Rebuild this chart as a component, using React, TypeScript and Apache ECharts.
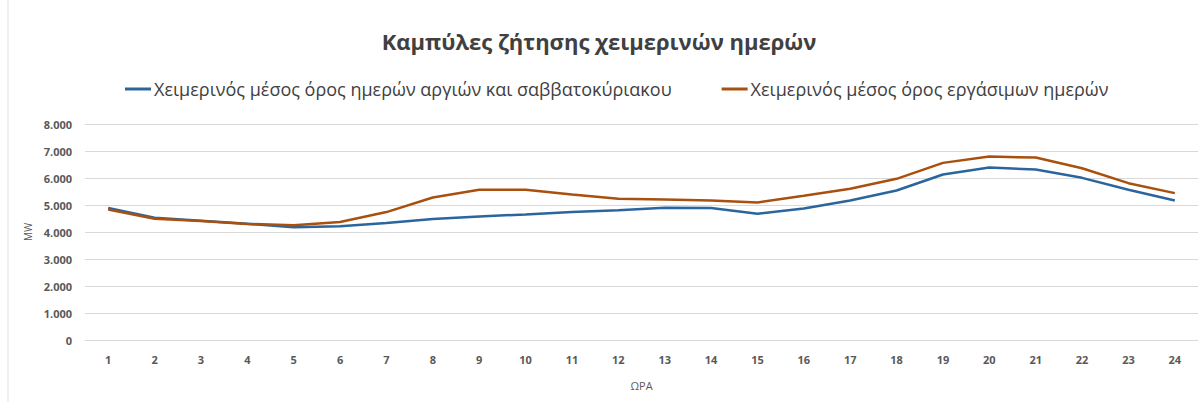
import React, { useEffect, useRef } from "react";
import * as echarts from "echarts";

const hours = ["1","2","3","4","5","6","7","8","9","10","11","12","13","14","15","16","17","18","19","20","21","22","23","24"];
const holidayWeekend = [4886,4529,4418,4308,4172,4209,4332,4480,4578,4652,4738,4810,4898,4886,4677,4874,5169,5538,6129,6388,6314,6006,5563,5169];
const workdays = [4837,4492,4406,4300,4246,4369,4738,5280,5563,5563,5391,5231,5206,5169,5095,5342,5600,5969,6560,6794,6757,6363,5809,5440];

const seriesNames = [
  "Χειμερινός μέσος όρος ημερών αργιών και σαββατοκύριακου",
  "Χειμερινός μέσος όρος εργάσιμων ημερών",
];
const colors = ["#2b659e", "#a9500f"];
const FONT = "'Open Sans', sans-serif";

export default function App() {
  const ref = useRef<HTMLDivElement>(null);
  useEffect(() => {
    const chart = echarts.init(ref.current!, null, { renderer: "svg" });
    chart.setOption({
      animation: false,
      backgroundColor: "#ffffff",
      title: {
        text: "Καμπύλες ζήτησης χειμερινών ημερών",
        left: "center",
        top: 25,
        textStyle: { fontFamily: FONT, fontSize: 22, fontWeight: "bold", color: "#404040" },
      },
      legend: {
        top: 75,
        left: 120,
        itemGap: 50,
        itemWidth: 26,
        itemHeight: 3,
        icon: "rect",
        textStyle: { fontFamily: FONT, fontSize: 18, color: "#404040", padding: [0, 0, 0, -2] },
        data: seriesNames,
      },
      grid: { left: 85, right: 0, top: 124, bottom: 62 },
      xAxis: {
        type: "category",
        data: hours,
        name: "ΩΡΑ",
        nameLocation: "middle",
        nameGap: 40,
        nameTextStyle: { fontFamily: FONT, fontSize: 11, color: "#595959" },
        axisLine: { show: false },
        axisTick: { show: false },
        axisLabel: { fontFamily: FONT, fontSize: 11, fontWeight: "bold", color: "#595959", margin: 14 },
      },
      yAxis: {
        type: "value",
        min: 0,
        max: 8000,
        interval: 1000,
        name: "MW",
        nameLocation: "middle",
        nameGap: 44,
        nameTextStyle: { fontFamily: FONT, fontSize: 10, color: "#595959" },
        axisLabel: {
          fontFamily: FONT,
          fontSize: 11,
          fontWeight: "bold",
          color: "#595959",
          margin: 13,
          formatter: (v: number) => v.toString().replace(/\B(?=(\d{3})+(?!\d))/g, "."),
        },
        splitLine: { lineStyle: { color: "#d9d9d9", width: 1 } },
      },
      series: [
        {
          name: seriesNames[0],
          type: "line",
          data: holidayWeekend,
          symbol: "none",
          color: colors[0],
          lineStyle: { width: 2.5, color: colors[0] },
        },
        {
          name: seriesNames[1],
          type: "line",
          data: workdays,
          symbol: "none",
          color: colors[1],
          lineStyle: { width: 2.5, color: colors[1] },
        },
      ],
      graphic: [
        { type: "line", shape: { x1: 8, y1: 0, x2: 8, y2: 402 }, style: { stroke: "#e0e0e0", lineWidth: 1 } },
      ],
    });
    return () => chart.dispose();
  }, []);
  return <div ref={ref} style={{ position: "absolute", left: 0, top: 0, width: 1198, height: 402 }} />;
}
